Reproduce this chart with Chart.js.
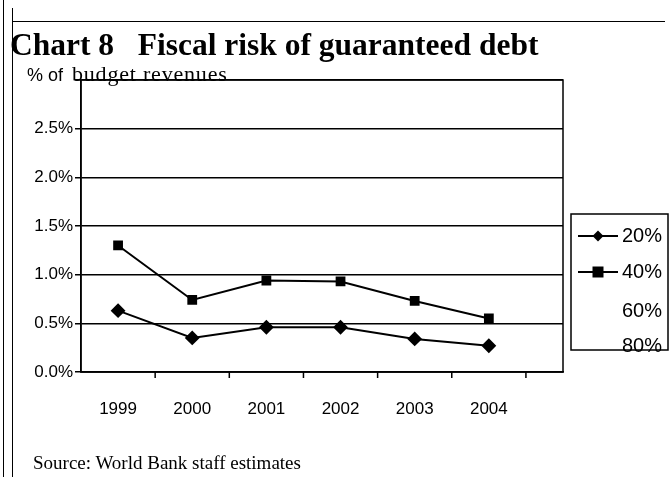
<!DOCTYPE html>
<html><head><meta charset="utf-8">
<script src="https://cdn.jsdelivr.net/npm/chart.js@4/dist/chart.umd.min.js"></script>
<style>
html,body{margin:0;padding:0;background:#fff;}
#wrap{position:relative;width:669px;height:477px;overflow:hidden;}
canvas{position:absolute;left:0;top:0;}
.t{position:absolute;white-space:nowrap;color:#000;line-height:1;}
#title{left:10px;top:29px;font:bold 31.5px "Liberation Serif",serif;line-height:1;}
#sub1{left:27px;top:66px;font:18px "Liberation Sans",sans-serif;line-height:1;}
#sub2{left:72px;top:63px;font:22px "Liberation Serif",serif;letter-spacing:0.8px;line-height:1;}
#src{left:33px;top:453px;font:19px "Liberation Serif",serif;line-height:1;}
.v{position:absolute;background:#000;}
</style></head>
<body><div id="wrap">
<canvas id="c" width="669" height="477"></canvas>
<div class="v" style="left:3px;top:0;width:1px;height:477px"></div>
<div class="v" style="left:12px;top:8px;width:1px;height:469px"></div>
<div class="v" style="left:12px;top:21px;width:653px;height:1px"></div>
<div class="t" id="title">Chart 8&nbsp;&nbsp; Fiscal risk of guaranteed debt</div>
<div class="t" id="sub1">% of</div>
<div class="t" id="sub2">budget revenues</div>
<div class="t" id="src">Source: World Bank staff estimates</div>
</div>
<script>
const years = ['1999','2000','2001','2002','2003','2004'];
const series20 = [0.63, 0.35, 0.46, 0.46, 0.34, 0.27];
const series40 = [1.30, 0.74, 0.94, 0.93, 0.73, 0.55];
const series60 = [];
const series80 = [];
const legendLabels = ['20%','40%','60%','80%'];
const yTicks = [0, 0.5, 1.0, 1.5, 2.0, 2.5, 3.0];

const toPts = arr => arr.map((v,i)=>({x:Number(years[i]), y:v}));

const frame = {
  id:'frame',
  afterDraw(chart){
    const {ctx, chartArea:a, scales:{x}} = chart;
    ctx.save();
    ctx.strokeStyle='#000'; ctx.lineWidth=1.5;
    ctx.strokeRect(a.left, a.top, a.right-a.left, a.bottom-a.top);
    // tick marks between categories
    ctx.beginPath();
    for(let i=0;i<years.length;i++){
      const px = x.getPixelForValue(Number(years[i])+0.5);
      ctx.moveTo(px, a.bottom); ctx.lineTo(px, a.bottom+6);
    }
    ctx.stroke();
    // legend
    const L=571, T=214, R=668, B=350;
    ctx.lineWidth=1.5;
    ctx.strokeRect(L,T,R-L,B-T);
    const rows=[236,272,311,346];
    ctx.font='20px "Liberation Sans", sans-serif';
    ctx.textBaseline='middle'; ctx.fillStyle='#000';
    chart.data.datasets.forEach((ds,i)=>{
      const y=rows[i];
      if(ds.pointStyle){
        ctx.beginPath(); ctx.lineWidth=2;
        ctx.moveTo(578,y); ctx.lineTo(618,y); ctx.stroke();
        ctx.beginPath();
        if(ds.pointStyle==='rectRot'){
          ctx.moveTo(598,y-5.5);ctx.lineTo(603.5,y);ctx.lineTo(598,y+5.5);ctx.lineTo(592.5,y);ctx.closePath();
        } else {
          ctx.rect(592.5,y-5.5,11,11);
        }
        ctx.fill();
      }
      ctx.fillText(ds.label, 622, y);
    });
    ctx.restore();
  }
};

new Chart(document.getElementById('c'), {
  type:'line',
  data:{datasets:[
    {label:legendLabels[0], data:toPts(series20), borderColor:'#000', backgroundColor:'#000', borderWidth:2, pointStyle:'rectRot', pointRadius:6, tension:0},
    {label:legendLabels[1], data:toPts(series40), borderColor:'#000', backgroundColor:'#000', borderWidth:2, pointStyle:'rect', pointRadius:5.5, tension:0},
    {label:legendLabels[2], data:series60, borderColor:'#000', backgroundColor:'#000', pointStyle:false},
    {label:legendLabels[3], data:series80, borderColor:'#000', backgroundColor:'#000', pointStyle:false}
  ]},
  options:{
    responsive:false, animation:false,
    layout:{padding:{left:0, top:80, right:106, bottom:0}},
    plugins:{legend:{display:false}, tooltip:{enabled:false}},
    scales:{
      x:{type:'linear', min:1998.5, max:2005,
        afterBuildTicks(s){ s.ticks = years.map(v=>({value:Number(v)})); },
        afterFit(s){ s.height = 105; },
        grid:{display:false, drawTicks:false},
        border:{display:true, color:'#000', width:1.5},
        ticks:{color:'#000', font:{family:'"Liberation Sans", sans-serif', size:17}, padding:27, autoSkip:false, maxRotation:0,
          callback:v=>String(v)}
      },
      y:{min:0, max:3,
        afterBuildTicks(s){ s.ticks = yTicks.map(v=>({value:v})); },
        afterFit(s){ s.width = 81; },
        grid:{color:'#000', lineWidth:1.5, tickLength:6, drawTicks:true},
        border:{display:true, color:'#000', width:1.5},
        ticks:{color:'#000', font:{family:'"Liberation Sans", sans-serif', size:17}, padding:2,
          callback:v=> v===3 ? '' : v.toFixed(1)+'%'}
      }
    }
  },
  plugins:[frame]
});
</script>
</body></html>
